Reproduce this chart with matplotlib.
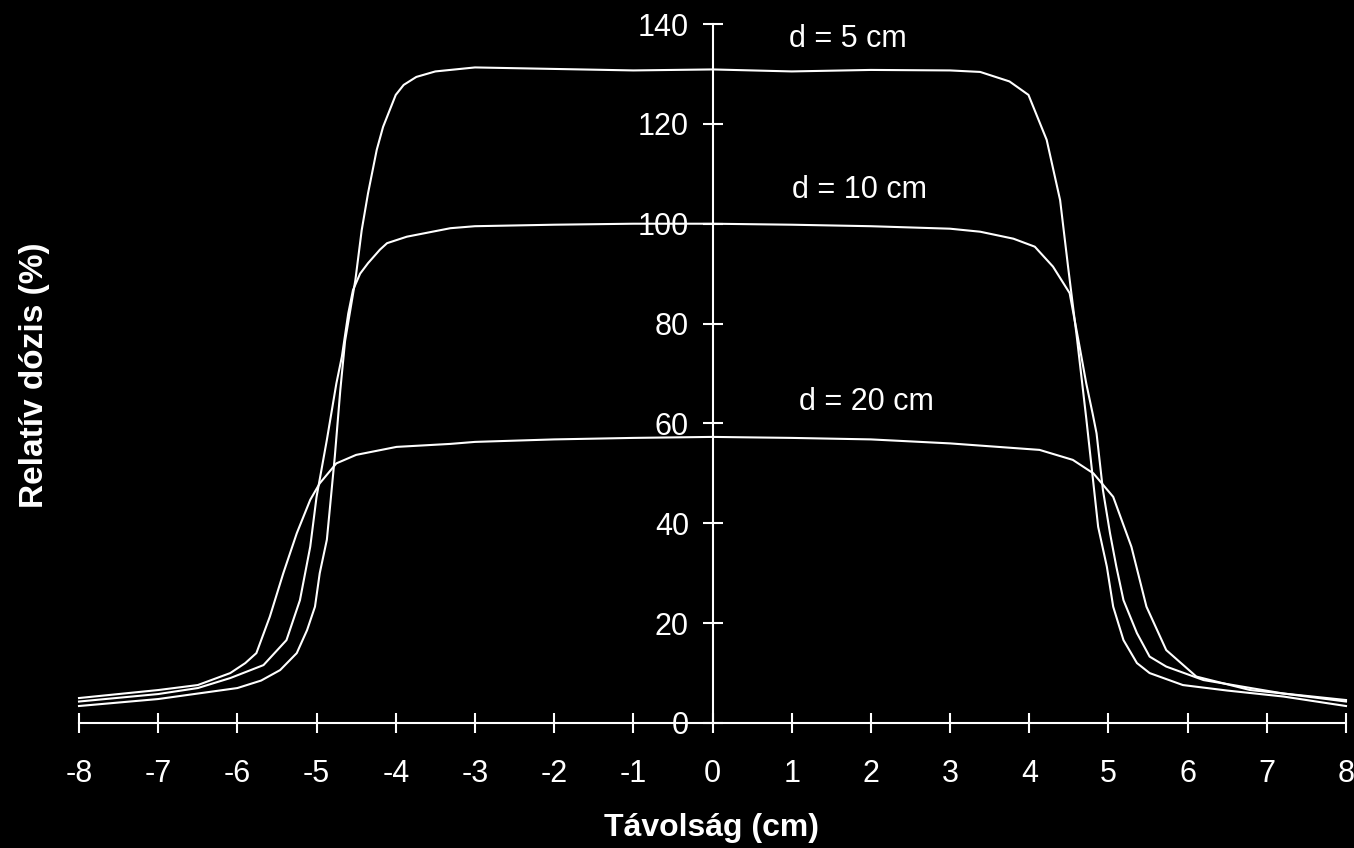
import matplotlib.pyplot as plt

# dose profiles (x in cm, relative dose in %)
x_5 = [-8, -7, -6.5, -6, -5.7, -5.46, -5.25, -5.12, -5.02, -4.96, -4.87, -4.83, -4.77, -4.7,
       -4.64, -4.51, -4.43, -4.35, -4.24, -4.16, -4.0, -3.9, -3.74, -3.5, -3, -2, -1, 0,
       1, 2, 3, 3.38, 3.75, 3.99, 4.22, 4.39, 4.49, 4.6, 4.72, 4.81, 4.87, 4.98, 5.06,
       5.19, 5.36, 5.52, 5.94, 6.5, 7.21, 8]
y_5 = [3.4, 4.8, 5.9, 7.0, 8.5, 10.6, 14, 18.6, 23.3, 30, 36.7, 43.3, 53.3, 66.7,
       76.5, 88.7, 98.7, 106.1, 114.8, 119.4, 125.8, 127.8, 129.4, 130.5, 131.3, 131.0, 130.7, 130.9,
       130.5, 130.8, 130.7, 130.4, 128.5, 125.8, 116.8, 104.7, 91.4, 77.4, 61, 48, 39.3, 31.3, 23.3,
       16.6, 12, 10, 7.6, 6.5, 5.3, 3.4]

x_10 = [-8, -7, -6.5, -6.09, -5.67, -5.38, -5.21, -5.08, -5.0, -4.87, -4.75, -4.68, -4.6,
        -4.54, -4.45, -4.35, -4.2, -4.11, -3.86, -3.31, -3, -2, -1, 0, 1, 2, 3, 3.38, 3.8,
        4.07, 4.3, 4.51, 4.64, 4.72, 4.8, 4.85, 4.93, 5.02, 5.1, 5.19, 5.36, 5.52, 5.73,
        6.2, 7.21, 8]
y_10 = [4.3, 5.8, 7.0, 9.0, 11.6, 16.6, 24.6, 35.3, 45.3, 56.7, 68, 73.4, 82,
        86.7, 90, 92.1, 94.8, 96.1, 97.4, 99.1, 99.5, 99.8, 100, 100, 99.8, 99.5, 99.0, 98.4, 97,
        95.4, 91.4, 86.1, 75, 68, 62, 58, 46.7, 38, 31.3, 24.6, 18, 13.3, 11.3,
        8.6, 5.9, 4.3]

x_20 = [-8, -7, -6.5, -6.09, -5.9, -5.76, -5.59, -5.42, -5.25, -5.08, -4.96, -4.75, -4.5,
        -3.99, -3.31, -3, -2, -1, 0, 1, 2, 3, 4.13, 4.55, 4.81, 5.06, 5.29, 5.48, 5.73,
        6.11, 6.79, 8]
y_20 = [5.0, 6.6, 7.6, 10, 12, 14, 21.3, 30, 38, 44.7, 48, 52, 53.7,
        55.3, 55.9, 56.3, 56.8, 57.1, 57.3, 57.1, 56.8, 56.0, 54.7, 52.7, 50.0, 45.3, 35.3, 23.3, 14.6,
        9.3, 6.6, 4.6]

x_ticks = list(range(-8, 9))
y_ticks = list(range(0, 141, 20))

plt.rcParams['font.family'] = ['Liberation Sans', 'DejaVu Sans']
plt.rcParams['axes.unicode_minus'] = False

fig = plt.figure(figsize=(13.54, 8.48), dpi=100, facecolor='black')
ax = fig.add_axes([79 / 1354, 1 - 723 / 848, 1267 / 1354, 699 / 848])
ax.set_facecolor('black')

for xs, ys in [(x_5, y_5), (x_10, y_10), (x_20, y_20)]:
    ax.plot(xs, ys, color='white', lw=1.5, clip_on=False)

ax.set_xlim(-8, 8)
ax.set_ylim(0, 140)

ax.spines['left'].set_position(('data', 0))
ax.spines['bottom'].set_position(('data', 0))
ax.spines['top'].set_visible(False)
ax.spines['right'].set_visible(False)
for s in ['left', 'bottom']:
    ax.spines[s].set_color('white')
    ax.spines[s].set_linewidth(1.5)

ax.set_xticks(x_ticks)
ax.set_yticks(y_ticks)
ax.tick_params(axis='both', colors='white', direction='inout', length=14, width=1.5,
               labelsize=22)
ax.tick_params(axis='x', pad=19)
ax.tick_params(axis='y', pad=10)

ax.text(1.71, 137.0, 'd = 5 cm', color='white', fontsize=22, ha='center', va='center')
ax.text(1.86, 106.7, 'd = 10 cm', color='white', fontsize=22, ha='center', va='center')
ax.text(1.95, 64.3, 'd = 20 cm', color='white', fontsize=22, ha='center', va='center')

fig.text(712 / 1354, 1 - 828 / 848, 'Távolság (cm)', color='white', fontsize=23,
         fontweight='bold', ha='center', va='center')
fig.text(35 / 1354, 1 - 375 / 848, 'Relatív dózis (%)', color='white', fontsize=24,
         fontweight='bold', ha='center', va='center', rotation=90)

fig.savefig('out.png', dpi=100, facecolor='black')
